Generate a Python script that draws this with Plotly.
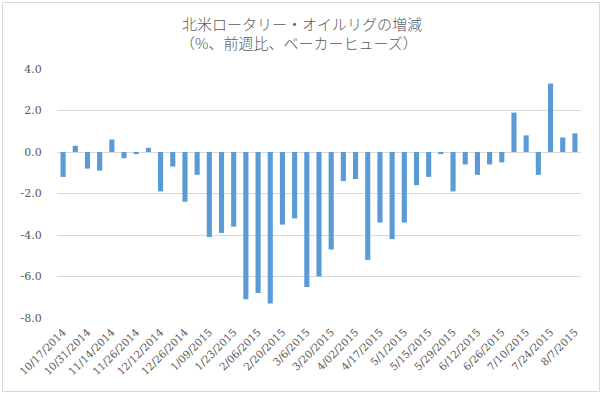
import plotly.graph_objects as go

dates = [
    "10/17/2014", "10/24/2014", "10/31/2014", "11/07/2014", "11/14/2014", "11/21/2014",
    "11/26/2014", "12/05/2014", "12/12/2014", "12/19/2014", "12/26/2014", "1/02/2015",
    "1/09/2015", "1/16/2015", "1/23/2015", "1/30/2015", "2/06/2015", "2/13/2015",
    "2/20/2015", "2/27/2015", "3/6/2015", "3/13/2015", "3/20/2015", "3/27/2015",
    "4/02/2015", "4/10/2015", "4/17/2015", "4/24/2015", "5/1/2015", "5/8/2015",
    "5/15/2015", "5/22/2015", "5/29/2015", "6/5/2015", "6/12/2015", "6/19/2015",
    "6/26/2015", "7/2/2015", "7/10/2015", "7/17/2015", "7/24/2015", "7/31/2015",
    "8/7/2015",
]
change_pct = [
    -1.2, 0.3, -0.8, -0.9, 0.6, -0.3, -0.1, 0.2, -1.9, -0.7, -2.4, -1.1,
    -4.1, -3.9, -3.6, -7.1, -6.8, -7.3, -3.5, -3.2, -6.5, -6.0, -4.7, -1.4,
    -1.3, -5.2, -3.4, -4.2, -3.4, -1.6, -1.2, -0.1, -1.9, -0.6, -1.1, -0.6,
    -0.5, 1.9, 0.8, -1.1, 3.3, 0.7, 0.9,
]
y_ticks = [4, 2, 0, -2, -4, -6, -8]
y_ticktext = ["4.0", "2.0", "0.0", "-2.0", "-4.0", "-6.0", "-8.0"]
title_line1 = "北米ロータリー・オイルリグの増減"
title_line2 = "（%、前週比、ベーカーヒューズ）"

fig = go.Figure(go.Bar(x=dates, y=change_pct, marker_color="#5b9bd5",
                       marker_line_width=0, hoverinfo="skip"))

W, H = 602, 395
L, R, T, B = 57, 21, 69, 77
pw, ph = W - L - R, H - T - B


def py(pix):
    """pixel y (from top) -> paper y"""
    return (H - B - pix) / ph


def px(pix):
    return (pix - L) / pw


title_font = dict(family="Noto Sans CJK JP", size=15, color="#595959", weight=300)
fig.update_layout(
    width=W, height=H,
    margin=dict(l=L, r=R, t=T, b=B, pad=0, autoexpand=False),
    paper_bgcolor="white", plot_bgcolor="white",
    bargap=0.58,
    showlegend=False,
    hovermode=False,
    font=dict(family="DejaVu Serif, Liberation Serif, serif", color="#595959"),
    annotations=[
        dict(text=title_line1, xref="paper", yref="paper", x=px(301.5), y=py(24),
             xanchor="center", yanchor="middle", showarrow=False, font=title_font),
        dict(text=title_line2, xref="paper", yref="paper", x=px(299), y=py(42.5),
             xanchor="center", yanchor="middle", showarrow=False, font=title_font),
    ],
    shapes=[dict(type="rect", xref="paper", yref="paper",
                 x0=px(2.5), x1=px(599.5), y0=py(391.5), y1=py(2.5),
                 line=dict(color="#d9d9d9", width=1), layer="above")],
)
fig.update_xaxes(
    type="category", automargin=False,
    tickvals=dates[::2], ticktext=dates[::2],
    tickangle=-45, tickfont=dict(size=10.5, color="#595959"),
    showgrid=False, showline=False, zeroline=False,
    ticks="outside", ticklen=3, tickcolor="rgba(0,0,0,0)",
)
fig.update_yaxes(
    range=[-8, 4], automargin=False,
    tickvals=y_ticks, ticktext=y_ticktext,
    tickfont=dict(size=11, color="#595959"),
    showgrid=True, gridcolor="#d9d9d9", gridwidth=1,
    zeroline=True, zerolinecolor="#d9d9d9", zerolinewidth=1,
    showline=False,
    ticks="outside", ticklen=12, tickcolor="rgba(0,0,0,0)",
)

fig.write_html(
    "out.html",
    config={"displayModeBar": False, "staticPlot": True},
    post_script="document.body.style.margin='0';document.body.style.overflow='hidden';",
)
